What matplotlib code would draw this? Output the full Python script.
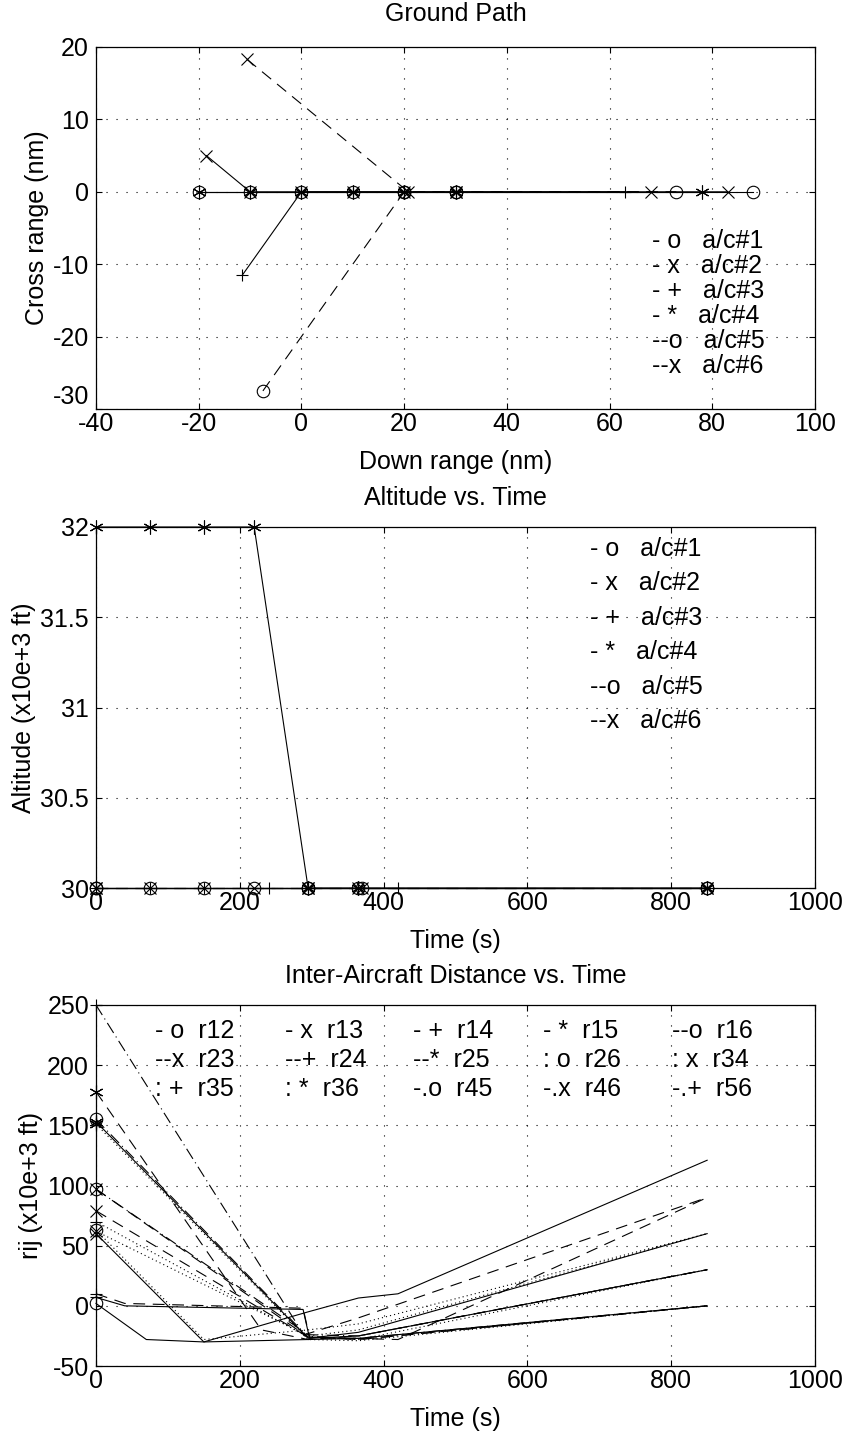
import matplotlib
matplotlib.use("Agg")
import matplotlib.pyplot as plt

plt.rcParams['font.family'] = ['Liberation Sans', 'DejaVu Sans']
plt.rcParams['lines.scale_dashes'] = False
plt.rcParams['axes.unicode_minus'] = False
FS = 18

# ---------------- Data: Ground Path ----------------
gp_x1 = [-20, -10, 0, 10, 20, 30, 88]
gp_y1 = [0, 0, 0, 0, 0, 0, 0]
gp_x2 = [-18.5, -10, 0, 10, 20, 30, 83]
gp_y2 = [5, 0, 0, 0, 0, 0, 0]
gp_x3 = [-11.5, 0, 10, 20, 30, 63]
gp_y3 = [-11.5, 0, 0, 0, 0, 0]
gp_x4 = [-20, -10, 0, 10, 20, 30, 78]
gp_y4 = [0, 0, 0, 0, 0, 0, 0]
gp_x5 = [-7.5, 20, 30, 73]
gp_y5 = [-27.5, 0, 0, 0]
gp_x6 = [-10.6, 20.8, 30, 68]
gp_y6 = [18.3, 0, 0, 0]

# ---------------- Data: Altitude ----------------
alt_t1 = [0, 75, 150, 220, 295, 365, 850]
alt_1 = [30, 30, 30, 30, 30, 30, 30]
alt_t2 = [0, 75, 150, 220, 295, 370, 850]
alt_2 = [30, 30, 30, 30, 30, 30, 30]
alt_t3 = [0, 75, 150, 240, 295, 420, 850]
alt_3 = [30, 30, 30, 30, 30, 30, 30]
alt_t4 = [0, 75, 150, 220, 295, 365, 850]
alt_4 = [32, 32, 32, 32, 30, 30, 30]
alt_t5 = [0, 295, 370, 850]
alt_5 = [30, 30, 30, 30]
alt_t6 = [0, 295, 365, 850]
alt_6 = [30, 30, 30, 30]

ac_labels = ['- o   a/c#1', '- x   a/c#2', '- +   a/c#3', '- *   a/c#4', '--o   a/c#5', '--x   a/c#6']

# ---------------- Data: Inter-aircraft distance ----------------
t_r12 = [0, 70, 150, 295, 365, 850];        r12 = [2, -28, -30, -28, -27, 0]
t_r13 = [0, 150, 295, 365, 420, 850];       r13 = [60, -30, -5, 6.5, 10, 121]
t_r14 = [0, 40, 288, 297, 365, 850];        r14 = [7, 0, -3, -27, -25, 30]
t_r15 = [0, 295, 365, 850];                 r15 = [153, -27, -22, 60]
t_r16 = [0, 290, 365, 850];                 r16 = [97, -24, -10, 90]
t_r23 = [0, 295, 420, 850];                 r23 = [79, -26, -28, 90]
t_r24 = [0, 40, 288, 297, 365, 850];        r24 = [10, 2, -2, -26, -28, 0]
t_r25 = [0, 230, 295, 365, 850];            r25 = [178, -20, -28, -25, 30]
t_r26 = [0, 150, 295, 365, 850];            r26 = [63, -28, -20, -15, 60]
t_r34 = [0, 295, 365, 850];                 r34 = [62, -25, -20, 60]
t_r35 = [0, 295, 365, 850];                 r35 = [70, -26, -28, 30]
t_r36 = [0, 295, 365, 850];                 r36 = [151, -28, -29, 0]
t_r45 = [0, 295, 365, 850];                 r45 = [155, -26, -27, 0]
t_r46 = [0, 295, 365, 850];                 r46 = [97, -24, -25, 30]
t_r56 = [0, 290, 365, 850];                 r56 = [250, -25, -28, 0]

r_labels = [['- o  r12', '- x  r13', '- +  r14', '- *  r15', '--o  r16'],
            ['--x  r23', '--+  r24', '--*  r25', ': o  r26', ': x  r34'],
            [': +  r35', ': *  r36', '-.o  r45', '-.x  r46', '-.+  r56']]

# ---------------- Styles ----------------
W, H = 846, 1435
LW = 0.8
DASH = (0, (8.5, 5.5))
DOT = (0, (0.8, 2.2))
DASHDOT = (0, (8.5, 3, 0.8, 3))
GRID = (0, (0.8, 6.4))
MS = 9
MARKERS = {'o': 'o', 'x': 'x', '+': '+', '*': (6, 2, 0)}

fig = plt.figure(figsize=(W / 100, H / 100), dpi=100)


def pxbox(left, top, right, bottom):
    return [left / W, 1 - bottom / H, (right - left) / W, (bottom - top) / H]


def style_ax(ax):
    ax.tick_params(direction='in', top=True, right=True, length=4, width=0.8,
                   labelsize=FS)
    ax.tick_params(axis='x', pad=2)
    ax.tick_params(axis='y', pad=5)
    ax.grid(True, color='k', linestyle=GRID, linewidth=0.8)
    for s in ax.spines.values():
        s.set_linewidth(0.9)


def labels(ax, title, xl, yl, tpad=16):
    ax.set_title(title, fontsize=FS, pad=tpad)
    ax.set_xlabel(xl, fontsize=FS, labelpad=10)
    ax.set_ylabel(yl, fontsize=FS, labelpad=3)


def ftext(x, y, s, **kw):
    fig.text(x / W, 1 - y / H, s, fontsize=FS, va='center', ha='left', **kw)


def pl(ax, x, y, ls, mk, markevery=None):
    ms = MS + 1 if mk == '*' else MS
    ax.plot(x, y, color='k', linestyle=ls, linewidth=LW, marker=MARKERS[mk], markersize=ms,
            markerfacecolor='none', markeredgecolor='k', markeredgewidth=0.8,
            markevery=markevery, clip_on=False)

# ---------------- Panel 1 ----------------
ax1 = fig.add_axes(pxbox(96, 47, 815, 409))
pl(ax1, gp_x1, gp_y1, '-', 'o')
pl(ax1, gp_x2, gp_y2, '-', 'x')
pl(ax1, gp_x3, gp_y3, '-', '+')
pl(ax1, gp_x4, gp_y4, '-', '*')
pl(ax1, gp_x5, gp_y5, DASH, 'o')
pl(ax1, gp_x6, gp_y6, DASH, 'x')
ax1.set_xlim(-40, 100)
ax1.set_ylim(-30, 20)
ax1.set_xticks(range(-40, 101, 20))
ax1.set_yticks(range(-30, 21, 10))
style_ax(ax1)
labels(ax1, 'Ground Path', 'Down range (nm)', 'Cross range (nm)', tpad=19)
# lowest y label sits just above the corner, clear of the "-40" x label
ax1.get_yticklabels()[0].set_verticalalignment('bottom')
for i, lab in enumerate(ac_labels):
    ftext(652, 241 + 25 * i, lab)

# ---------------- Panel 2 ----------------
ax2 = fig.add_axes(pxbox(96, 527, 815, 888))
pl(ax2, alt_t1, alt_1, '-', 'o')
pl(ax2, alt_t2, alt_2, '-', 'x')
pl(ax2, alt_t3, alt_3, '-', '+')
pl(ax2, alt_t4, alt_4, '-', '*')
pl(ax2, alt_t5, alt_5, DASH, 'o')
pl(ax2, alt_t6, alt_6, DASH, 'x')
ax2.set_xlim(0, 1000)
ax2.set_ylim(30, 32)
ax2.set_xticks(range(0, 1001, 200))
ax2.set_yticks([30, 30.5, 31, 31.5, 32])
ax2.set_yticklabels(['30', '30.5', '31', '31.5', '32'])
style_ax(ax2)
labels(ax2, 'Altitude vs. Time', 'Time (s)', 'Altitude (x10e+3 ft)')
for i, lab in enumerate(ac_labels):
    ftext(590, 549 + 34.4 * i, lab)

# ---------------- Panel 3 ----------------
ax3 = fig.add_axes(pxbox(96, 1005, 815, 1366))
series = [
    (t_r12, r12, '-', 'o'), (t_r13, r13, '-', 'x'), (t_r14, r14, '-', '+'),
    (t_r15, r15, '-', '*'), (t_r16, r16, DASH, 'o'), (t_r23, r23, DASH, 'x'),
    (t_r24, r24, DASH, '+'), (t_r25, r25, DASH, '*'), (t_r26, r26, DOT, 'o'),
    (t_r34, r34, DOT, 'x'), (t_r35, r35, DOT, '+'), (t_r36, r36, DOT, '*'),
    (t_r45, r45, DASHDOT, 'o'), (t_r46, r46, DASHDOT, 'x'), (t_r56, r56, DASHDOT, '+'),
]
for t, r, ls, mk in series:
    pl(ax3, t, r, ls, mk, markevery=[0])
ax3.set_xlim(0, 1000)
ax3.set_ylim(-50, 250)
ax3.set_xticks(range(0, 1001, 200))
ax3.set_yticks(range(-50, 251, 50))
style_ax(ax3)
labels(ax3, 'Inter-Aircraft Distance vs. Time', 'Time (s)', 'rij (x10e+3 ft)')
col_x = [155, 285, 413, 543, 672]
row_y = [1031, 1060, 1089]
for ri, row in enumerate(r_labels):
    for ci, lab in enumerate(row):
        ftext(col_x[ci], row_y[ri], lab)

fig.savefig('out.png', dpi=100)
